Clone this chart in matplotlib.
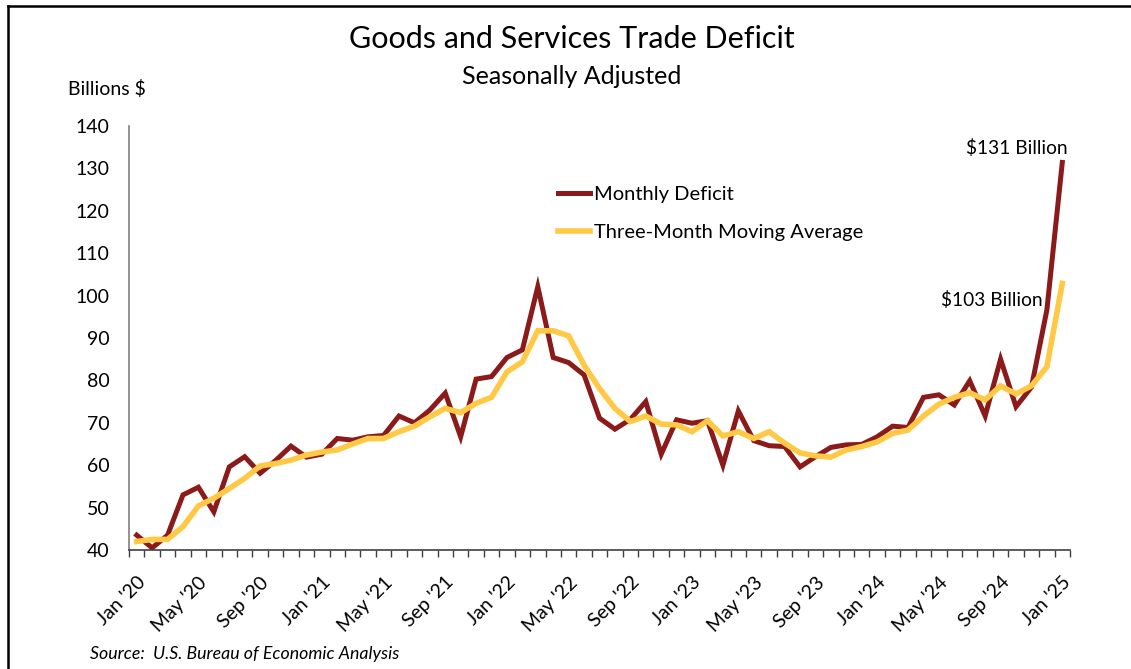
import matplotlib
matplotlib.use("Agg")
import matplotlib.pyplot as plt
from matplotlib.lines import Line2D
import numpy as np

# ---- data (Billions $), Jan 2020 .. Jan 2025 ----
months = ["Jan", "Feb", "Mar", "Apr", "May", "Jun", "Jul", "Aug", "Sep", "Oct", "Nov", "Dec"]
years = [20, 21, 22, 23, 24, 25]
monthly_deficit = [
    43.5, 40.5, 43.5, 53.0, 54.8, 49.0, 59.6, 62.0, 58.1, 61.1, 64.5, 61.9,
    62.6, 66.3, 65.9, 66.7, 67.0, 71.6, 70.0, 73.0, 77.0, 66.7, 80.3, 80.9,
    85.4, 87.2, 102.1, 85.4, 84.2, 81.3, 71.1, 68.5, 70.8, 75.0, 62.6, 70.7,
    69.9, 70.5, 60.0, 72.8, 65.8, 64.6, 64.4, 59.6, 62.0, 64.2, 64.8, 64.9,
    66.7, 69.2, 68.9, 76.0, 76.6, 74.2, 79.9, 71.6, 85.0, 73.8, 78.4, 96.6,
    131.4,
]
moving_average = [
    42.0, 42.5, 42.5, 45.5, 50.4, 52.2, 54.5, 56.9, 59.8, 60.4, 61.2, 62.4,
    63.1, 63.6, 65.0, 66.3, 66.3, 67.9, 69.2, 71.4, 73.4, 72.4, 74.6, 76.0,
    82.0, 84.4, 91.7, 91.7, 90.5, 83.6, 78.1, 73.4, 70.3, 71.6, 69.7, 69.5,
    67.9, 70.5, 66.9, 67.9, 66.3, 67.9, 65.2, 62.9, 62.2, 61.9, 63.6, 64.4,
    65.5, 67.5, 68.3, 71.6, 74.4, 76.0, 77.1, 75.4, 78.7, 76.8, 78.7, 83.2,
    102.9,
]
yticks = [40, 50, 60, 70, 80, 90, 100, 110, 120, 130, 140]
label_every = 4

labels = [f"{m} '{y:02d}" for y in years for m in months][:len(monthly_deficit)]

W, H = 1131, 669
FONT = "Lato"
plt.rcParams['font.family'] = [FONT, 'DejaVu Sans']

fig = plt.figure(figsize=(W / 100, H / 100), dpi=100)
fx = lambda px: px / W
fy = lambda py: 1 - py / H

ax = fig.add_axes([fx(129), fy(550), fx(1070) - fx(129), fy(126) - fy(550)])

x = np.arange(len(monthly_deficit))
red = "#8B1A1A"
yellow = "#FFC845"
ax.plot(x, monthly_deficit, color=red, lw=3.6, solid_joinstyle='miter', zorder=2)
ax.plot(x, moving_average, color=yellow, lw=4.0, solid_joinstyle='miter', zorder=3)

ax.set_xlim(-0.5, len(x) - 0.5)
ax.set_ylim(40, 140)
ax.set_yticks(yticks)
ax.set_yticklabels([str(v) for v in yticks], fontsize=14)
ax.tick_params(axis='y', length=0, pad=14)

ax.set_xticks(np.arange(-0.5, len(x) + 0.5, 1), minor=True)
ax.set_xticks(x[::label_every])
ax.set_xticklabels(labels[::label_every], rotation=45, ha='right',
                   rotation_mode='anchor', fontsize=14)
ax.tick_params(axis='x', which='major', length=0, pad=17)
ax.tick_params(axis='x', which='minor', length=5, width=1, color='#404040', direction='out')

for s in ['top', 'right']:
    ax.spines[s].set_visible(False)
ax.spines['left'].set_color('#808080')
ax.spines['bottom'].set_color('#404040')
ax.spines['left'].set_linewidth(1.2)
ax.spines['bottom'].set_linewidth(1.2)

# legend
handles = [Line2D([], [], color=red, lw=3.6), Line2D([], [], color=yellow, lw=4.0)]
leg = ax.legend(handles, ["Monthly Deficit", "Three-Month Moving Average"],
                loc='upper left', bbox_to_anchor=(fx(558), fy(186)),
                bbox_transform=fig.transFigure, frameon=False, fontsize=14.5,
                handlelength=1.6, handletextpad=0.2, labelspacing=1.05,
                borderpad=0, borderaxespad=0)

# annotations
fig.text(fx(1068), fy(148), "$131 Billion", fontsize=13.8, ha='right', va='center')
fig.text(fx(1043), fy(300), "$103 Billion", fontsize=13.8, ha='right', va='center')

# titles
fig.text(fx(572), fy(39), "Goods and Services Trade Deficit", fontsize=22, ha='center', va='center')
fig.text(fx(572), fy(76), "Seasonally Adjusted", fontsize=18, ha='center', va='center')
fig.text(fx(68), fy(89), "Billions $", fontsize=14, ha='left', va='center')
fig.text(fx(90), fy(654), "Source:  U.S. Bureau of Economic Analysis", fontsize=12.8,
         style='italic', ha='left', va='center')

# frame
fig.add_artist(Line2D([fx(8), fx(8)], [fy(6), 0], color='black', lw=1.8))
fig.add_artist(Line2D([fx(8), 1], [fy(6), fy(6)], color='black', lw=1.8))

fig.savefig("out.png", dpi=100)
